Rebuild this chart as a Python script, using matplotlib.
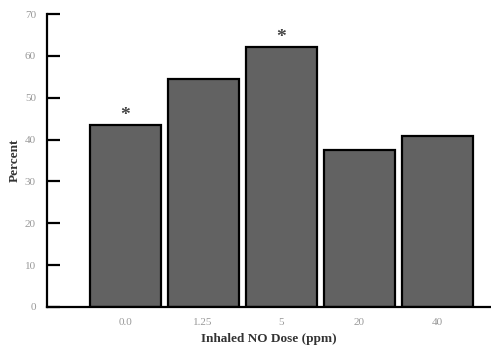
import matplotlib.pyplot as plt

# データ
doses = ["0.0", "1.25", "5", "20", "40"]
percent = [43.5, 54.5, 62.0, 37.5, 40.8]
significant = [True, False, True, False, False]
y_ticks = [0, 10, 20, 30, 40, 50, 60, 70]

plt.rcParams["font.family"] = ["Liberation Serif", "DejaVu Serif"]

fig = plt.figure(figsize=(4.91, 3.5), dpi=100)
ax = fig.add_axes([0.0957, 0.123, 0.9043, 0.837])

x = range(len(doses))
ax.bar(x, percent, width=0.91, color="#626262", edgecolor="black", linewidth=1.6)

# 有意差マーク
for i, (v, s) in enumerate(zip(percent, significant)):
    if s:
        ax.text(i, v + 0.3, "*", ha="center", va="bottom", fontsize=14,
                fontweight="bold", color="#444444")

ax.set_xlim(-1.0, 4.69)
ax.set_ylim(0, 70)
ax.set_xticks(list(x))
ax.set_xticklabels(doses)
ax.set_yticks(y_ticks)

ax.spines["top"].set_visible(False)
ax.spines["right"].set_visible(False)
ax.spines["left"].set_linewidth(1.6)
ax.spines["bottom"].set_linewidth(1.6)

ax.tick_params(axis="y", direction="in", length=9, width=1.6,
               labelsize=8, labelcolor="#999999", pad=8)
ax.tick_params(axis="x", length=0, labelsize=8, labelcolor="#999999", pad=8)

ax.set_xlabel("Inhaled NO Dose (ppm)", fontsize=9.5, fontweight="bold",
              color="#333333", labelpad=4)
ax.set_ylabel("Percent", fontsize=9.5, fontweight="bold", color="#333333",
              labelpad=3)

fig.savefig("out.png", dpi=100)
